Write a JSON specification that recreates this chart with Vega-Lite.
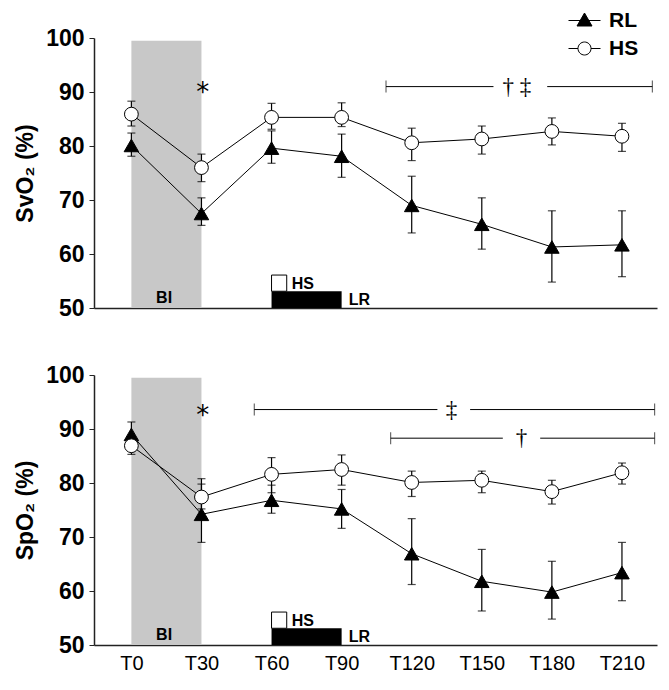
{
"$schema":"https://vega.github.io/schema/vega-lite/v6.json",
"padding":{"left":14,"top":10,"right":5,"bottom":5},
"spacing":44,
"datasets":{
"series":[
{"p":"SvO2","g":"RL","t":0,"v":80.1,"lo":78.1,"hi":82.4},
{"p":"SvO2","g":"RL","t":30,"v":67.5,"lo":65.3,"hi":70.4},
{"p":"SvO2","g":"RL","t":60,"v":79.6,"lo":76.8,"hi":82.8},
{"p":"SvO2","g":"RL","t":90,"v":78.1,"lo":74.2,"hi":82.2},
{"p":"SvO2","g":"RL","t":120,"v":69.0,"lo":63.9,"hi":74.4},
{"p":"SvO2","g":"RL","t":150,"v":65.5,"lo":60.9,"hi":70.4},
{"p":"SvO2","g":"RL","t":180,"v":61.3,"lo":54.8,"hi":68.0},
{"p":"SvO2","g":"RL","t":210,"v":61.7,"lo":55.8,"hi":68.0},
{"p":"SvO2","g":"HS","t":0,"v":85.9,"lo":83.7,"hi":88.3},
{"p":"SvO2","g":"HS","t":30,"v":76.0,"lo":73.4,"hi":78.5},
{"p":"SvO2","g":"HS","t":60,"v":85.3,"lo":83.1,"hi":87.9},
{"p":"SvO2","g":"HS","t":90,"v":85.3,"lo":83.6,"hi":88.0},
{"p":"SvO2","g":"HS","t":120,"v":80.6,"lo":77.3,"hi":83.3},
{"p":"SvO2","g":"HS","t":150,"v":81.3,"lo":78.5,"hi":83.7},
{"p":"SvO2","g":"HS","t":180,"v":82.7,"lo":80.2,"hi":85.2},
{"p":"SvO2","g":"HS","t":210,"v":81.8,"lo":79.0,"hi":84.2},
{"p":"SpO2","g":"RL","t":0,"v":89.0,"lo":86.7,"hi":91.3},
{"p":"SpO2","g":"RL","t":30,"v":74.2,"lo":69.0,"hi":80.8},
{"p":"SpO2","g":"RL","t":60,"v":76.8,"lo":74.4,"hi":79.6},
{"p":"SpO2","g":"RL","t":90,"v":75.2,"lo":71.6,"hi":78.8},
{"p":"SpO2","g":"RL","t":120,"v":66.9,"lo":61.2,"hi":73.4},
{"p":"SpO2","g":"RL","t":150,"v":61.8,"lo":56.3,"hi":67.7},
{"p":"SpO2","g":"RL","t":180,"v":59.8,"lo":54.8,"hi":65.5},
{"p":"SpO2","g":"RL","t":210,"v":63.4,"lo":58.2,"hi":69.0},
{"p":"SpO2","g":"HS","t":0,"v":86.9,"lo":85.3,"hi":88.5},
{"p":"SpO2","g":"HS","t":30,"v":77.4,"lo":75.2,"hi":79.8},
{"p":"SpO2","g":"HS","t":60,"v":81.6,"lo":78.2,"hi":84.7},
{"p":"SpO2","g":"HS","t":90,"v":82.5,"lo":79.6,"hi":85.2},
{"p":"SpO2","g":"HS","t":120,"v":80.1,"lo":77.5,"hi":82.2},
{"p":"SpO2","g":"HS","t":150,"v":80.5,"lo":78.2,"hi":82.2},
{"p":"SpO2","g":"HS","t":180,"v":78.4,"lo":76.1,"hi":80.5},
{"p":"SpO2","g":"HS","t":210,"v":81.9,"lo":79.8,"hi":83.7}
],
"boxes":[
{"k":"BI","t":0,"t2":30,"v":50,"v2":99.5},
{"k":"LR","t":60,"t2":90,"v":50,"v2":53.1},
{"k":"HS","t":60,"t2":66.5,"v":53.1,"v2":56.1}
],
"labels":[
{"k":"c","txt":"BI","t":14,"v":51.9},
{"k":"l","txt":"HS","t":68.6,"v":54.4},
{"k":"l","txt":"LR","t":93,"v":51.4}
],
"sig":[
{"p":"SvO2","t":109,"t2":155,"v":91},
{"p":"SvO2","t":178,"t2":223,"v":91},
{"p":"SpO2","t":52.6,"t2":131,"v":93.6},
{"p":"SpO2","t":145,"t2":224,"v":93.6},
{"p":"SpO2","t":111,"t2":159,"v":88.3},
{"p":"SpO2","t":175,"t2":224,"v":88.3}
],
"caps":[
{"p":"SvO2","t":109,"v":91},
{"p":"SvO2","t":223,"v":91},
{"p":"SpO2","t":52.6,"v":93.6},
{"p":"SpO2","t":224,"v":93.6},
{"p":"SpO2","t":111,"v":88.3},
{"p":"SpO2","t":224,"v":88.3}
],
"stars":[
{"p":"SvO2","t":30.5,"v":91},
{"p":"SpO2","t":30.5,"v":93.6}
],
"daggers":[
{"p":"SvO2","t":165,"v":91,"txt":"† ‡"},
{"p":"SpO2","t":137,"v":93.6,"txt":"‡"},
{"p":"SpO2","t":167,"v":88.3,"txt":"†"}
],
"legendkeys":[
{"g":"RL"},{"g":"HS"}
]
},
"vconcat":[
{
"width":563,"height":270,
"encoding":{
"x":{"field":"t","type":"quantitative","scale":{"domain":[-16,225]},"axis":{"title":null,"labels":false,"ticks":false,"grid":false,"domainColor":"#222","domainWidth":1.5}},
"y":{"field":"v","type":"quantitative","scale":{"domain":[50,100]},"axis":{"title":"SvO₂ (%)","values":[50,60,70,80,90,100],"grid":false,"domainColor":"#222","domainWidth":1.5,"tickSize":5,"tickColor":"#222","labelPadding":5,"titlePadding":8}}
},
"layer":[
{"data":{"name":"boxes"},"transform":[{"filter":"datum.k=='BI'"}],"mark":{"type":"rect","fill":"#c8c8c8"},"encoding":{"x2":{"field":"t2"},"y2":{"field":"v2"}}},
{"data":{"name":"boxes"},"transform":[{"filter":"datum.k=='LR'"}],"mark":{"type":"rect","fill":"black"},"encoding":{"x2":{"field":"t2"},"y2":{"field":"v2"}}},
{"data":{"name":"boxes"},"transform":[{"filter":"datum.k=='HS'"}],"mark":{"type":"rect","fill":"white","stroke":"black","strokeWidth":1},"encoding":{"x2":{"field":"t2"},"y2":{"field":"v2"}}},
{"data":{"name":"labels"},"transform":[{"filter":"datum.k=='c'"}],"mark":{"type":"text","align":"center","baseline":"middle","font":"Liberation Sans","fontWeight":"bold","fontSize":16,"color":"black"},"encoding":{"text":{"field":"txt"}}},
{"data":{"name":"labels"},"transform":[{"filter":"datum.k=='l'"}],"mark":{"type":"text","align":"left","baseline":"middle","font":"Liberation Sans","fontWeight":"bold","fontSize":16,"color":"black"},"encoding":{"text":{"field":"txt"}}},
{"data":{"name":"sig"},"transform":[{"filter":"datum.p=='SvO2'"}],"mark":{"type":"rule","color":"black","strokeWidth":1},"encoding":{"x2":{"field":"t2"}}},
{"data":{"name":"caps"},"transform":[{"filter":"datum.p=='SvO2'"}],"mark":{"type":"tick","orient":"vertical","color":"black","thickness":1,"size":12},"encoding":{}},
{"data":{"name":"stars"},"transform":[{"filter":"datum.p=='SvO2'"}],"mark":{"type":"text","text":"*","align":"center","baseline":"middle","dy":6,"font":"DejaVu Sans","fontSize":26,"color":"#000000"},"encoding":{}},
{"data":{"name":"daggers"},"transform":[{"filter":"datum.p=='SvO2'"}],"mark":{"type":"text","align":"center","baseline":"middle","font":"Liberation Serif","fontSize":23,"color":"#000000"},"encoding":{"text":{"field":"txt"}}},
{"data":{"name":"series"},"transform":[{"filter":"datum.p=='SvO2'"}],"mark":{"type":"rule","color":"black","strokeWidth":1.2},
"encoding":{"y":{"field":"lo","type":"quantitative","scale":{"domain":[50,100]},"axis":{"title":"SvO₂ (%)","values":[50,60,70,80,90,100],"grid":false,"domainColor":"#222","domainWidth":1.5,"tickSize":5,"tickColor":"#222","labelPadding":5,"titlePadding":8}},"y2":{"field":"hi"}}},
{"data":{"name":"series"},"transform":[{"filter":"datum.p=='SvO2'"}],"mark":{"type":"tick","orient":"horizontal","color":"black","thickness":1.2,"size":8},
"encoding":{"y":{"field":"lo","type":"quantitative","scale":{"domain":[50,100]},"axis":{"title":"SvO₂ (%)","values":[50,60,70,80,90,100],"grid":false,"domainColor":"#222","domainWidth":1.5,"tickSize":5,"tickColor":"#222","labelPadding":5,"titlePadding":8}}}},
{"data":{"name":"series"},"transform":[{"filter":"datum.p=='SvO2'"}],"mark":{"type":"tick","orient":"horizontal","color":"black","thickness":1.2,"size":8},
"encoding":{"y":{"field":"hi","type":"quantitative","scale":{"domain":[50,100]},"axis":{"title":"SvO₂ (%)","values":[50,60,70,80,90,100],"grid":false,"domainColor":"#222","domainWidth":1.5,"tickSize":5,"tickColor":"#222","labelPadding":5,"titlePadding":8}}}},
{"data":{"name":"series"},"transform":[{"filter":"datum.p=='SvO2'"}],"mark":{"type":"line","color":"black","strokeWidth":1},"encoding":{"detail":{"field":"g"}}},
{"data":{"name":"series"},"transform":[{"filter":"datum.p=='SvO2' && datum.g=='RL'"}],"mark":{"type":"point","shape":"triangle-up","filled":true,"fill":"black","stroke":"black","strokeWidth":1,"size":210,"opacity":1},"encoding":{}},
{"data":{"name":"series"},"transform":[{"filter":"datum.p=='SvO2' && datum.g=='HS'"}],"mark":{"type":"point","shape":"circle","filled":true,"fill":"white","stroke":"black","strokeWidth":1,"size":190,"opacity":1},"encoding":{}},
{"data":{"name":"legendkeys"},"transform":[{"filter":"false"}],"mark":{"type":"point","filled":true,"strokeWidth":1,"size":400,"opacity":1},
"encoding":{"x":{"datum":100,"type":"quantitative","scale":{"domain":[-16,225]},"axis":{"title":null,"labels":false,"ticks":false,"grid":false,"domainColor":"#222","domainWidth":1.5}},
"y":{"datum":75,"type":"quantitative","scale":{"domain":[50,100]},"axis":{"title":"SvO₂ (%)","values":[50,60,70,80,90,100],"grid":false,"domainColor":"#222","domainWidth":1.5,"tickSize":5,"tickColor":"#222","labelPadding":5,"titlePadding":8}},
"shape":{"field":"g","type":"nominal","scale":{"domain":["RL","HS"],"range":["M-1.6,0H1.6M0,-0.75L0.75,0.55L-0.75,0.55Z","M-1.6,0H-0.65M0.65,0H1.6M0.65,0A0.65,0.65 0 1 1 -0.65,0A0.65,0.65 0 1 1 0.65,0Z"]},"legend":{"title":null,"orient":"none","legendX":480,"legendY":-28}},
"fill":{"field":"g","type":"nominal","scale":{"domain":["RL","HS"],"range":["black","white"]},"legend":{"title":null,"orient":"none","legendX":480,"legendY":-28}},
"stroke":{"field":"g","type":"nominal","scale":{"domain":["RL","HS"],"range":["black","black"]},"legend":{"title":null,"orient":"none","legendX":480,"legendY":-28}}}}
]
},
{
"width":563,"height":270,
"encoding":{
"x":{"field":"t","type":"quantitative","scale":{"domain":[-16,225]},"axis":{"title":null,"values":[0,30,60,90,120,150,180,210],"labelExpr":"'T' + datum.value","ticks":false,"grid":false,"domainColor":"#222","domainWidth":1.5,"labelFontSize":20,"labelPadding":8,"labelFont":"Liberation Sans","labelFontWeight":"normal"}},
"y":{"field":"v","type":"quantitative","scale":{"domain":[50,100]},"axis":{"title":"SpO₂ (%)","values":[50,60,70,80,90,100],"grid":false,"domainColor":"#222","domainWidth":1.5,"tickSize":5,"tickColor":"#222","labelPadding":5,"titlePadding":8}}
},
"layer":[
{"data":{"name":"boxes"},"transform":[{"filter":"datum.k=='BI'"}],"mark":{"type":"rect","fill":"#c8c8c8"},"encoding":{"x2":{"field":"t2"},"y2":{"field":"v2"}}},
{"data":{"name":"boxes"},"transform":[{"filter":"datum.k=='LR'"}],"mark":{"type":"rect","fill":"black"},"encoding":{"x2":{"field":"t2"},"y2":{"field":"v2"}}},
{"data":{"name":"boxes"},"transform":[{"filter":"datum.k=='HS'"}],"mark":{"type":"rect","fill":"white","stroke":"black","strokeWidth":1},"encoding":{"x2":{"field":"t2"},"y2":{"field":"v2"}}},
{"data":{"name":"labels"},"transform":[{"filter":"datum.k=='c'"}],"mark":{"type":"text","align":"center","baseline":"middle","font":"Liberation Sans","fontWeight":"bold","fontSize":16,"color":"black"},"encoding":{"text":{"field":"txt"}}},
{"data":{"name":"labels"},"transform":[{"filter":"datum.k=='l'"}],"mark":{"type":"text","align":"left","baseline":"middle","font":"Liberation Sans","fontWeight":"bold","fontSize":16,"color":"black"},"encoding":{"text":{"field":"txt"}}},
{"data":{"name":"sig"},"transform":[{"filter":"datum.p=='SpO2'"}],"mark":{"type":"rule","color":"black","strokeWidth":1},"encoding":{"x2":{"field":"t2"}}},
{"data":{"name":"caps"},"transform":[{"filter":"datum.p=='SpO2'"}],"mark":{"type":"tick","orient":"vertical","color":"black","thickness":1,"size":12},"encoding":{}},
{"data":{"name":"stars"},"transform":[{"filter":"datum.p=='SpO2'"}],"mark":{"type":"text","text":"*","align":"center","baseline":"middle","dy":6,"font":"DejaVu Sans","fontSize":26,"color":"#000000"},"encoding":{}},
{"data":{"name":"daggers"},"transform":[{"filter":"datum.p=='SpO2'"}],"mark":{"type":"text","align":"center","baseline":"middle","font":"Liberation Serif","fontSize":23,"color":"#000000"},"encoding":{"text":{"field":"txt"}}},
{"data":{"name":"series"},"transform":[{"filter":"datum.p=='SpO2'"}],"mark":{"type":"rule","color":"black","strokeWidth":1.2},
"encoding":{"y":{"field":"lo","type":"quantitative","scale":{"domain":[50,100]},"axis":{"title":"SpO₂ (%)","values":[50,60,70,80,90,100],"grid":false,"domainColor":"#222","domainWidth":1.5,"tickSize":5,"tickColor":"#222","labelPadding":5,"titlePadding":8}},"y2":{"field":"hi"}}},
{"data":{"name":"series"},"transform":[{"filter":"datum.p=='SpO2'"}],"mark":{"type":"tick","orient":"horizontal","color":"black","thickness":1.2,"size":8},
"encoding":{"y":{"field":"lo","type":"quantitative","scale":{"domain":[50,100]},"axis":{"title":"SpO₂ (%)","values":[50,60,70,80,90,100],"grid":false,"domainColor":"#222","domainWidth":1.5,"tickSize":5,"tickColor":"#222","labelPadding":5,"titlePadding":8}}}},
{"data":{"name":"series"},"transform":[{"filter":"datum.p=='SpO2'"}],"mark":{"type":"tick","orient":"horizontal","color":"black","thickness":1.2,"size":8},
"encoding":{"y":{"field":"hi","type":"quantitative","scale":{"domain":[50,100]},"axis":{"title":"SpO₂ (%)","values":[50,60,70,80,90,100],"grid":false,"domainColor":"#222","domainWidth":1.5,"tickSize":5,"tickColor":"#222","labelPadding":5,"titlePadding":8}}}},
{"data":{"name":"series"},"transform":[{"filter":"datum.p=='SpO2'"}],"mark":{"type":"line","color":"black","strokeWidth":1},"encoding":{"detail":{"field":"g"}}},
{"data":{"name":"series"},"transform":[{"filter":"datum.p=='SpO2' && datum.g=='RL'"}],"mark":{"type":"point","shape":"triangle-up","filled":true,"fill":"black","stroke":"black","strokeWidth":1,"size":210,"opacity":1},"encoding":{}},
{"data":{"name":"series"},"transform":[{"filter":"datum.p=='SpO2' && datum.g=='HS'"}],"mark":{"type":"point","shape":"circle","filled":true,"fill":"white","stroke":"black","strokeWidth":1,"size":190,"opacity":1},"encoding":{}}
]
}
],
"config":{
"view":{"stroke":null},
"axis":{"labelFont":"Liberation Sans","labelFontWeight":"bold","labelFontSize":23,"labelColor":"black","titleFont":"Liberation Sans","titleFontWeight":"bold","titleFontSize":23,"titleColor":"black"},
"legend":{"padding":0,"labelFont":"Liberation Sans","labelFontWeight":"bold","labelFontSize":21,"labelColor":"black","symbolSize":400,"symbolStrokeWidth":1,"labelOffset":14,"rowPadding":6}
}
}
